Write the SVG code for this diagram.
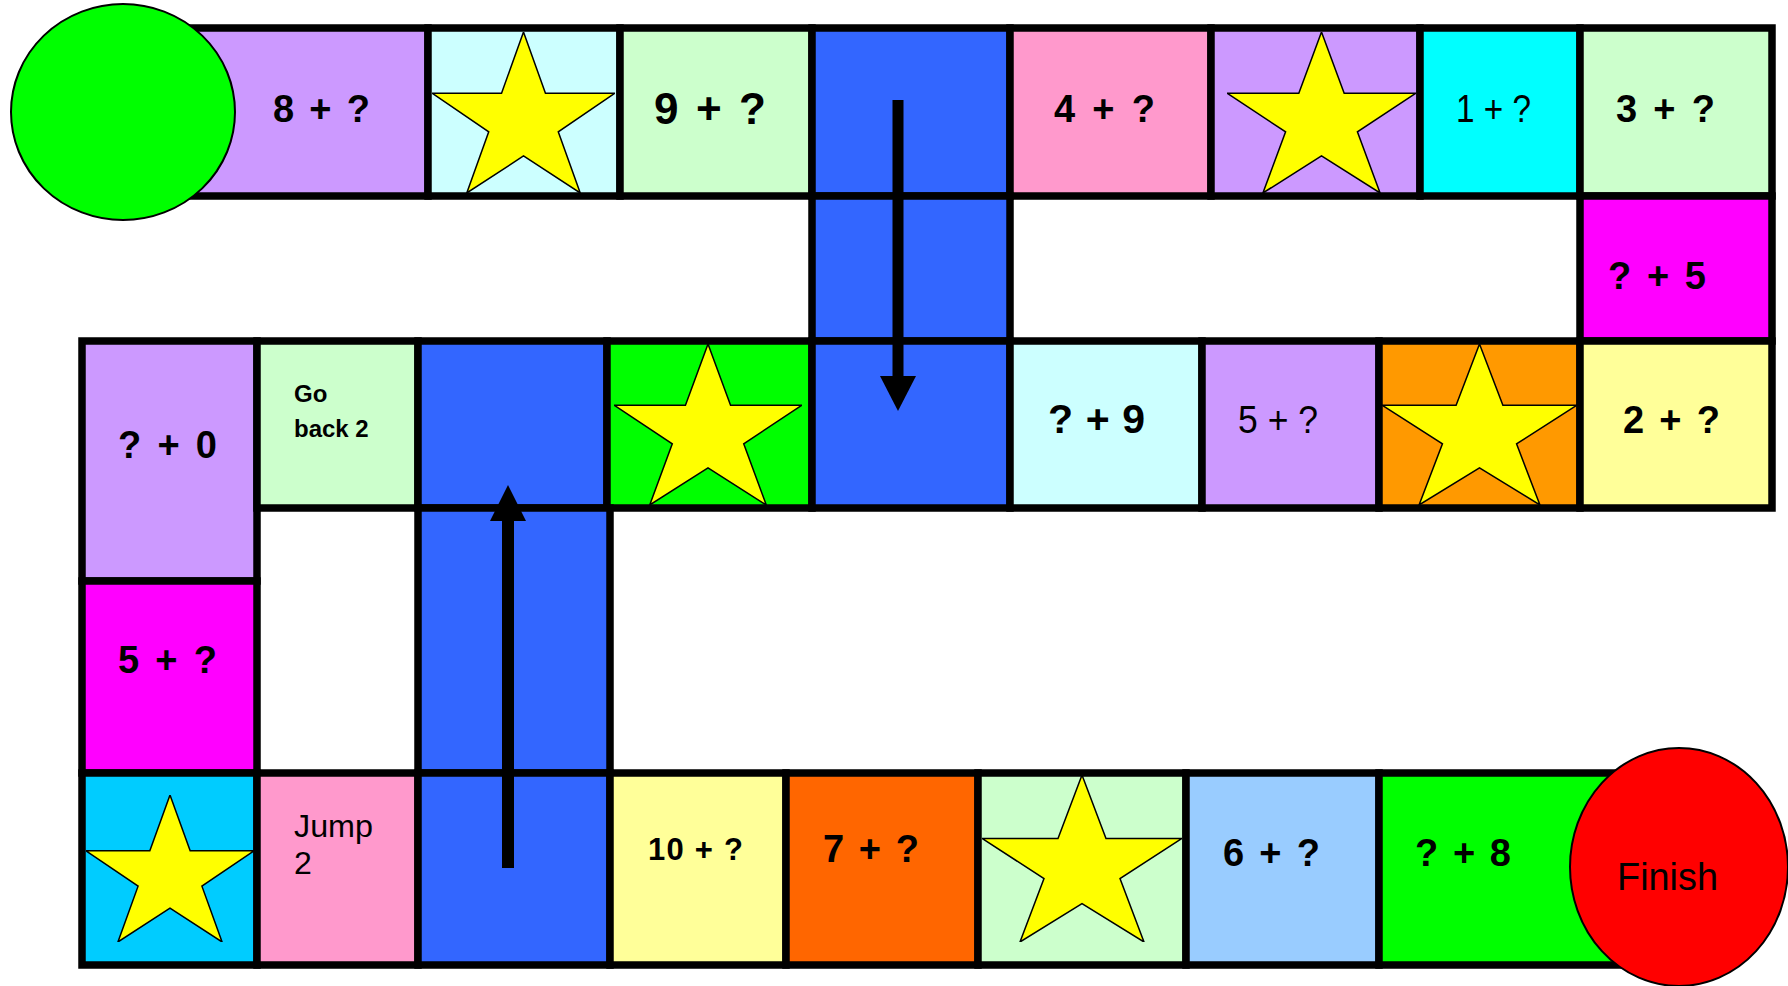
<svg xmlns="http://www.w3.org/2000/svg" width="1788" height="986" viewBox="0 0 1788 986">
<style>
.t{stroke:#000;stroke-width:7.5}
.b{fill:#3366FF}
.star{fill:#FFFF00;stroke:#000;stroke-width:1.5;vector-effect:non-scaling-stroke}
.lb{font-family:"Liberation Sans",Arial,sans-serif;font-weight:bold;font-size:38px;fill:#000}
.ln{font-family:"Liberation Sans",Arial,sans-serif;font-weight:normal;font-size:38px;fill:#000}
.circ{stroke:#000;stroke-width:2}
</style>
<defs>
<symbol id="star" viewBox="0 0 100 100" preserveAspectRatio="none">
<polygon class="star" points="50,0 62,38 100,38 69,62 81,100 50,77 19,100 31,62 0,38 38,38"/>
</symbol>
</defs>
<rect width="1788" height="986" fill="#fff"/>

<!-- top row -->
<g id="t-8plus"><rect class="t" x="160" y="28" width="268" height="168" fill="#CC99FF"/><text class="lb" x="273" y="122" textLength="97" lengthAdjust="spacing">8 + ?</text></g>
<g id="t-star1"><rect class="t" x="428" y="28" width="192" height="168" fill="#CCFFFF"/><use href="#star" x="432" y="32" width="183" height="161"/></g>
<g id="t-9plus"><rect class="t" x="620" y="28" width="192" height="168" fill="#CCFFCC"/><text class="lb" x="654" y="124" style="font-size:44px" textLength="112" lengthAdjust="spacing">9 + ?</text></g>
<g id="t-blue1"><rect class="t b" x="812" y="28" width="198" height="168"/></g>
<g id="t-4plus"><rect class="t" x="1010" y="28" width="201" height="168" fill="#FF99CC"/><text class="lb" x="1054" y="122" textLength="101" lengthAdjust="spacing">4 + ?</text></g>
<g id="t-star2"><rect class="t" x="1211" y="28" width="209" height="168" fill="#CC99FF"/><use href="#star" x="1227" y="32" width="189" height="161"/></g>
<g id="t-1plus"><rect class="t" x="1420" y="28" width="160" height="168" fill="#00FFFF"/><text class="ln" x="1456" y="122" textLength="75" lengthAdjust="spacingAndGlyphs">1 + ?</text></g>
<g id="t-3plus"><rect class="t" x="1580" y="28" width="192" height="168" fill="#CCFFCC"/><text class="lb" x="1616" y="122" textLength="99" lengthAdjust="spacing">3 + ?</text></g>

<!-- row 2 -->
<g id="t-blue2"><rect class="t b" x="812" y="196" width="198" height="145"/></g>
<g id="t-qplus5"><rect class="t" x="1580" y="196" width="192" height="145" fill="#FF00FF"/><text class="lb" x="1608" y="289" textLength="98" lengthAdjust="spacing">? + 5</text></g>

<!-- row 3 -->
<g id="t-qplus0"><rect class="t" x="82" y="341" width="175" height="240" fill="#CC99FF"/><text class="lb" x="118" y="458" textLength="99" lengthAdjust="spacing">? + 0</text></g>
<g id="t-goback2"><rect class="t" x="257" y="341" width="161" height="167" fill="#CCFFCC"/><text class="lb" x="294" y="402" style="font-size:24px">Go</text><text class="lb" x="294" y="437" style="font-size:24px">back 2</text></g>
<g id="t-blue3"><rect class="t b" x="418" y="341" width="189" height="167"/></g>
<g id="t-star3"><rect class="t" x="607" y="341" width="205" height="167" fill="#00FF00"/><use href="#star" x="614" y="344" width="188" height="161"/></g>
<g id="t-blue4"><rect class="t b" x="812" y="341" width="198" height="167"/></g>
<g id="t-qplus9"><rect class="t" x="1010" y="341" width="192" height="167" fill="#CCFFFF"/><text class="lb" x="1048" y="433" style="font-size:41px" textLength="97" lengthAdjust="spacing">? + 9</text></g>
<g id="t-5plus-r3"><rect class="t" x="1202" y="341" width="177" height="167" fill="#CC99FF"/><text class="ln" x="1238" y="433" textLength="80" lengthAdjust="spacingAndGlyphs">5 + ?</text></g>
<g id="t-star4"><rect class="t" x="1379" y="341" width="201" height="167" fill="#FF9900"/><use href="#star" x="1382" y="344" width="195" height="161"/></g>
<g id="t-2plus"><rect class="t" x="1580" y="341" width="192" height="167" fill="#FFFF99"/><text class="lb" x="1623" y="433" textLength="97" lengthAdjust="spacing">2 + ?</text></g>

<!-- left column and blue column 2 -->
<g id="t-5plus-left"><rect class="t" x="82" y="581" width="175" height="192" fill="#FF00FF"/><text class="lb" x="118" y="673" textLength="99" lengthAdjust="spacing">5 + ?</text></g>
<g id="t-blue5"><rect class="t b" x="418" y="508" width="192" height="265"/></g>

<!-- bottom row -->
<g id="t-star5"><rect class="t" x="82" y="773" width="175" height="192" fill="#00CCFF"/><use href="#star" x="86" y="795" width="168" height="147"/></g>
<g id="t-jump2"><rect class="t" x="257" y="773" width="161" height="192" fill="#FF99CC"/><text class="ln" x="294" y="837" style="font-size:32px" textLength="79" lengthAdjust="spacingAndGlyphs">Jump</text><text class="ln" x="294" y="874" style="font-size:32px">2</text></g>
<g id="t-blue6"><rect class="t b" x="418" y="773" width="192" height="192"/></g>
<g id="t-10plus"><rect class="t" x="610" y="773" width="176" height="192" fill="#FFFF99"/><text class="lb" x="648" y="860" style="font-size:31px" textLength="95" lengthAdjust="spacing">10 + ?</text></g>
<g id="t-7plus"><rect class="t" x="786" y="773" width="192" height="192" fill="#FF6600"/><text class="lb" x="823" y="862" textLength="96" lengthAdjust="spacing">7 + ?</text></g>
<g id="t-star6"><rect class="t" x="978" y="773" width="208" height="192" fill="#CCFFCC"/><use href="#star" x="982" y="775" width="200" height="167"/></g>
<g id="t-6plus"><rect class="t" x="1186" y="773" width="193" height="192" fill="#99CCFF"/><text class="lb" x="1223" y="866" textLength="97" lengthAdjust="spacing">6 + ?</text></g>
<g id="t-qplus8"><rect class="t" x="1379" y="773" width="321" height="192" fill="#00FF00"/><text class="lb" x="1415" y="866" textLength="96" lengthAdjust="spacing">? + 8</text></g>

<!-- start / finish -->
<g id="start"><ellipse class="circ" cx="123" cy="112" rx="112" ry="108" fill="#00FF00"/></g>
<g id="finish"><ellipse class="circ" cx="1679" cy="867" rx="109" ry="119" fill="#FF0000"/><text class="ln" x="1617" y="890" textLength="101" lengthAdjust="spacingAndGlyphs">Finish</text></g>

<!-- connectors -->
<g id="connectors">
<line x1="898" y1="100" x2="898" y2="378" stroke="#000" stroke-width="11"/>
<polygon points="880,376 916,376 898,411" fill="#000"/>
<line x1="508" y1="868" x2="508" y2="519" stroke="#000" stroke-width="12"/>
<polygon points="490,521 526,521 508,485" fill="#000"/>
</g>
</svg>
